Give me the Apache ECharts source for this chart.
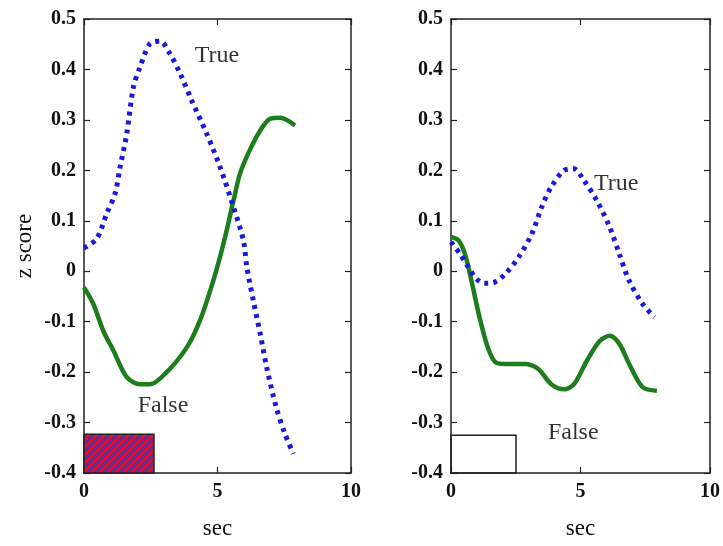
<!DOCTYPE html>
<html>
<head>
<meta charset="utf-8">
<script src="https://cdn.jsdelivr.net/npm/echarts@6/dist/echarts.min.js"></script>
<style>
  html, body { margin: 0; padding: 0; background: #fff; }
  #main { width: 723px; height: 546px; }
</style>
</head>
<body>
<div id="main"></div>
<script>
// left panel, data
const leftTrue = [
  [0, 0.046], [0.47, 0.064], [0.85, 0.114], [1.16, 0.153], [1.35, 0.206], [1.6, 0.272],
  [1.85, 0.365], [2.1, 0.405], [2.47, 0.451], [2.85, 0.456], [3.22, 0.431], [3.6, 0.392],
  [4.03, 0.339], [4.6, 0.272], [5.1, 0.206], [5.6, 0.127], [5.97, 0.061], [6.1, 0.008],
  [6.34, -0.058], [6.6, -0.124], [6.84, -0.19], [7.2, -0.27], [7.53, -0.323], [7.84, -0.362]
];
const leftFalse = [
  [0, -0.032], [0.35, -0.065], [0.72, -0.118], [1.1, -0.157], [1.6, -0.21], [2.1, -0.224],
  [2.47, -0.224], [3.1, -0.2], [3.85, -0.151], [4.34, -0.098], [4.84, -0.019], [5.22, 0.054],
  [5.6, 0.14], [5.84, 0.193], [6.2, 0.239], [6.6, 0.279], [6.97, 0.302], [7.35, 0.304], [7.9, 0.289]
];
// right panel
const rightTrue = [
  [0, 0.058], [0.35, 0.034], [0.67, 0.008], [0.98, -0.015], [1.29, -0.024], [1.67, -0.022],
  [2.1, -0.005], [2.61, 0.028], [3.12, 0.074], [3.5, 0.127], [3.87, 0.167], [4.37, 0.2],
  [4.75, 0.203], [5.13, 0.18], [5.63, 0.14], [6.13, 0.087], [6.5, 0.034], [6.88, -0.019],
  [7.4, -0.065], [7.86, -0.091]
];
const rightFalse = [
  [0, 0.068], [0.29, 0.061], [0.54, 0.034], [0.79, -0.019], [1.1, -0.091], [1.42, -0.151],
  [1.73, -0.181], [2.11, -0.184], [2.86, -0.184], [3.37, -0.194], [3.87, -0.224], [4.37, -0.234],
  [4.75, -0.224], [5.25, -0.177], [5.75, -0.138], [6.13, -0.128], [6.5, -0.144], [6.88, -0.184],
  [7.4, -0.23], [7.95, -0.237]
];
// stimulus boxes [x0, x1, y0, y1]
const leftBox = [0, 2.62, -0.4, -0.323];
const rightBox = [0, 2.51, -0.4, -0.325];
// text labels [x, y, text]
const leftLabels = [[4.98, 0.428, 'True'], [2.96, -0.267, 'False']];
const rightLabels = [[6.38, 0.174, 'True'], [4.72, -0.32, 'False']];
const xTicks = [0, 10, 5];
const yTicks = [-0.4, 0.5, 0.1];

const serif = '"Liberation Serif", "DejaVu Serif", serif';

// red/purple diagonal stripes
function stripes() {
  const c = document.createElement('canvas');
  c.width = 8; c.height = 8;
  const g = c.getContext('2d');
  g.fillStyle = '#dc1030';
  g.fillRect(0, 0, 8, 8);
  g.strokeStyle = '#5b2c9c';
  g.lineWidth = 2.4;
  for (let k = -8; k <= 16; k += 8) {
    g.beginPath();
    g.moveTo(k - 8, 16);
    g.lineTo(k + 8, 0);
    g.stroke();
  }
  return c;
}

const grids = [
  { left: 84, right: 372, top: 19, bottom: 73 },
  { left: 451, right: 7, top: 19, bottom: 73 }
];

const xAxis = [];
const yAxis = [];
[0, 1].forEach(function (i) {
  const line = { show: true, onZero: false, lineStyle: { color: '#222', width: 1.5 } };
  const tick = { show: true, inside: true, length: 6, lineStyle: { color: '#222', width: 1.2 } };
  xAxis.push({
    type: 'value', gridIndex: i, min: xTicks[0], max: xTicks[1], interval: xTicks[2],
    name: 'sec', nameLocation: 'middle', nameGap: 44,
    nameTextStyle: { fontFamily: serif, fontSize: 23, color: '#111' },
    axisLine: line, axisTick: tick, splitLine: { show: false },
    axisLabel: { fontFamily: serif, fontWeight: 'bold', fontSize: 20, color: '#111', margin: 9,
      showMaxLabel: true }
  });
  xAxis.push({
    type: 'value', gridIndex: i, position: 'top', min: xTicks[0], max: xTicks[1], interval: xTicks[2],
    axisLine: line, axisTick: tick, axisLabel: { show: false }, splitLine: { show: false }
  });
  yAxis.push({
    type: 'value', gridIndex: i, min: yTicks[0], max: yTicks[1], interval: yTicks[2],
    name: i === 0 ? 'z score' : '', nameLocation: 'middle', nameGap: 48,
    nameTextStyle: { fontFamily: serif, fontSize: 23, color: '#111' },
    axisLine: line, axisTick: tick, splitLine: { show: false },
    axisLabel: { fontFamily: serif, fontWeight: 'bold', fontSize: 20, color: '#111', margin: 8,
      formatter: function (v) { return String(Math.round(v * 10) / 10); } }
  });
  yAxis.push({
    type: 'value', gridIndex: i, position: 'right', min: yTicks[0], max: yTicks[1], interval: yTicks[2],
    axisLine: line, axisTick: tick, axisLabel: { show: false }, splitLine: { show: false }
  });
});

function trueLine(data, i) {
  return {
    type: 'line', xAxisIndex: i * 2, yAxisIndex: i * 2, data: data, smooth: 0.3,
    symbol: 'none', z: 3,
    lineStyle: { color: '#1a1ad8', width: 5, type: [4, 5] }
  };
}
function falseLine(data, i) {
  return {
    type: 'line', xAxisIndex: i * 2, yAxisIndex: i * 2, data: data, smooth: 0.3,
    symbol: 'none', z: 2,
    lineStyle: { color: '#1d7d1d', width: 4.5 }
  };
}
function textSeries(labels, i) {
  return {
    type: 'scatter', xAxisIndex: i * 2, yAxisIndex: i * 2, symbolSize: 0, z: 4,
    data: labels.map(function (l) { return { value: [l[0], l[1]], name: l[2] }; }),
    label: { show: true, position: 'inside', formatter: '{b}', fontFamily: serif, fontSize: 24,
      color: '#000', textBorderWidth: 0 }
  };
}
function boxSeries(box, i, fill) {
  return {
    type: 'line', xAxisIndex: i * 2, yAxisIndex: i * 2, data: [], z: 1,
    markArea: {
      silent: true,
      itemStyle: { color: fill, borderColor: '#222', borderWidth: 1.5 },
      data: [[{ coord: [box[0], box[3]] }, { coord: [box[1], box[2]] }]]
    }
  };
}

const chart = echarts.init(document.getElementById('main'), null, { renderer: 'canvas' });
chart.setOption({
  backgroundColor: '#fff',
  animation: false,
  grid: grids,
  xAxis: xAxis,
  yAxis: yAxis,
  series: [
    boxSeries(leftBox, 0, { image: stripes(), repeat: 'repeat' }),
    falseLine(leftFalse, 0),
    trueLine(leftTrue, 0),
    textSeries(leftLabels, 0),
    boxSeries(rightBox, 1, 'rgba(255,255,255,0)'),
    falseLine(rightFalse, 1),
    trueLine(rightTrue, 1),
    textSeries(rightLabels, 1)
  ]
});
</script>
</body>
</html>
